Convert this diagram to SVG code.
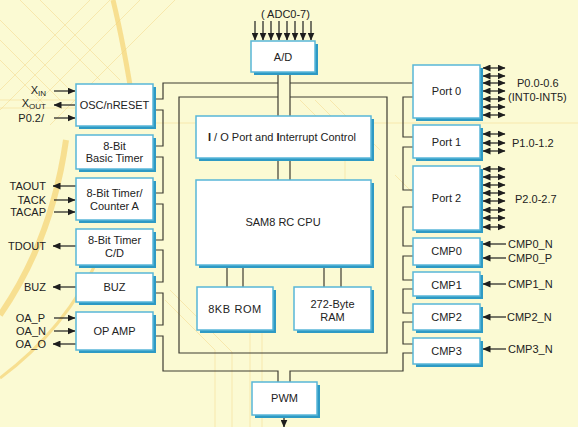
<svg xmlns="http://www.w3.org/2000/svg" width="578" height="427" viewBox="0 0 578 427">
<defs>
<style>
.bg{fill:#FBFAD3}
.deco{fill:none;stroke:#F2D37E;stroke-width:1;opacity:0.45}
.decot{fill:none;stroke:#F5D57A;opacity:0.75}
.sh{fill:#2E9AC4}
.bx{fill:#fff;stroke:#58B6D8;stroke-width:1.5}
text{font-family:"Liberation Sans",Arial,sans-serif;font-size:11px;fill:#222}
.c{text-anchor:middle}
.e{text-anchor:end}
.w{fill:none;stroke:#3E3D33;stroke-width:1.2}
.a{fill:none;stroke:#1E1E1E;stroke-width:1.2;marker-end:url(#ah)}
.b{fill:none;stroke:#1E1E1E;stroke-width:1.2;marker-start:url(#ah);marker-end:url(#ah)}
</style>
<marker id="ah" viewBox="0 0 8 8" refX="7.5" refY="4" markerWidth="8" markerHeight="7" markerUnits="userSpaceOnUse" orient="auto-start-reverse" preserveAspectRatio="none">
<path d="M0,0 L8,4 L0,8 z" fill="#1E1E1E"/>
</marker>
</defs>
<rect class="bg" x="0" y="0" width="578" height="427"/>
<g id="decoration">
<path class="decot" d="M113,0 Q124,45 134,110" stroke-width="5"/>
<path class="decot" d="M66,140 Q52,240 0,315" stroke-width="6"/>
<path class="decot" d="M100,255 Q65,330 0,378" stroke-width="3" opacity="0.45"/>
<path class="deco" d="M0,20 L70,90 M0,40 L60,100 M0,60 L45,105 M20,0 L100,80 M40,0 L120,80 M0,90 L90,0 M0,110 L110,0 M20,120 L140,0 M50,125 L175,0"/>
<path class="deco" d="M0,100 H75 M0,108 H75 M140,123 H578"/>
<path class="deco" d="M165,300 L215,350 V427 M170,290 L232,352 V427 M250,330 V427 M262,330 V427"/>
<path class="deco" d="M300,100 L345,145 V190 M315,100 L360,145 M330,100 L380,150 M395,175 L420,200"/>
</g>
<g id="connectors">
<path class="w" d="M278,75 V116 M290,75 V116 M278,160 V180 M290,160 V180"/>
<path class="w" d="M155,99 H163 V83 H278 M290,83 H413"/>
<path class="w" d="M278,97 H179 V353 H387 V97 H290"/>
<path class="w" d="M155,110 H163 V146 H155 M155,157 H163 V193 H155 M155,204 H163 V240 H155 M155,250 H163 V282 H155 M155,293 H163 V325 H155"/>
<path class="w" d="M155,336 H163 V371 H278 V382 M290,382 V371 H403 V353 H413"/>
<path class="w" d="M413,97 H403 V137 H413 M413,147 H403 V190 H413 M413,207 H403 V246 H413 M413,256 H403 V280 H413 M413,289 H403 V313 H413 M413,322 H403 V344 H413"/>
<path class="w" d="M227,267 V287 M243,267 V287 M324,267 V287 M341,267 V287"/>
<g id="adc-arrows">
<path class="a" d="M255,21 V40"/><path class="a" d="M263,21 V40"/><path class="a" d="M271,21 V40"/><path class="a" d="M279,21 V40"/>
<path class="a" d="M287,21 V40"/><path class="a" d="M295,21 V40"/><path class="a" d="M303,21 V40"/><path class="a" d="M311,21 V40"/>
</g>
<path class="a" d="M284,418 V427"/>
<g id="left-arrows">
<path class="a" d="M54,91 H75"/><path class="a" d="M54,118 H75"/><path class="a" d="M54,200 H75"/><path class="a" d="M54,212 H75"/><path class="a" d="M54,318 H75"/><path class="a" d="M54,331 H75"/>
<path class="a" d="M75,105 H54"/><path class="a" d="M76,186 H53"/><path class="a" d="M76,246 H53"/><path class="a" d="M76,287 H53"/><path class="a" d="M76,344 H53"/>
</g>
<g id="right-arrows">
<path class="b" d="M483,68 H505"/><path class="b" d="M483,76 H505"/><path class="b" d="M483,83 H505"/><path class="b" d="M483,91 H505"/><path class="b" d="M483,99 H505"/><path class="b" d="M483,107 H505"/><path class="b" d="M483,115 H505"/>
<path class="b" d="M483,134 H505"/><path class="b" d="M483,143 H505"/><path class="b" d="M483,151 H505"/>
<path class="b" d="M483,169 H505"/><path class="b" d="M483,177 H505"/><path class="b" d="M483,185 H505"/><path class="b" d="M483,193 H505"/><path class="b" d="M483,201 H505"/><path class="b" d="M483,210 H505"/><path class="b" d="M483,218 H505"/><path class="b" d="M483,227 H505"/>
<path class="a" d="M506,244 H483"/><path class="a" d="M506,258 H483"/><path class="a" d="M506,284 H483"/><path class="a" d="M506,317 H483"/><path class="a" d="M506,349 H483"/>
</g>
</g>
<g id="ad"><rect class="sh" x="254" y="44" width="64" height="31"/><rect class="bx" x="251" y="41" width="64" height="31"/><text class="c" x="283" y="61">A/D</text></g>
<g id="osc"><rect class="sh" x="79" y="87" width="77" height="42"/><rect class="bx" x="76" y="84" width="77" height="42"/><text class="c" x="114.5" y="109">OSC/nRESET</text></g>
<g id="basic-timer"><rect class="sh" x="79" y="138" width="77" height="34"/><rect class="bx" x="76" y="135" width="77" height="34"/><text class="c" x="114.5" y="150">8-Bit</text><text class="c" x="114.5" y="162">Basic Timer</text></g>
<g id="timer-a"><rect class="sh" x="79" y="181" width="77" height="42"/><rect class="bx" x="76" y="178" width="77" height="42"/><text class="c" x="114.5" y="197">8-Bit Timer/</text><text class="c" x="114.5" y="210">Counter A</text></g>
<g id="timer-cd"><rect class="sh" x="79" y="232" width="77" height="36"/><rect class="bx" x="76" y="229" width="77" height="36"/><text class="c" x="114.5" y="244">8-Bit Timer</text><text class="c" x="114.5" y="257">C/D</text></g>
<g id="buz"><rect class="sh" x="79" y="276" width="77" height="29"/><rect class="bx" x="76" y="273" width="77" height="29"/><text class="c" x="114.5" y="291">BUZ</text></g>
<g id="opamp"><rect class="sh" x="79" y="315" width="77" height="38"/><rect class="bx" x="76" y="312" width="77" height="38"/><text class="c" x="114.5" y="335">OP AMP</text></g>
<g id="io"><rect class="sh" x="199" y="119" width="175" height="42"/><rect class="bx" x="196" y="116" width="175" height="42"/><text class="c" x="282" y="141"><tspan font-weight="bold">I</tspan> / O Port and <tspan font-weight="bold">I</tspan>nterrupt Control</text></g>
<g id="cpu"><rect class="sh" x="199" y="183" width="175" height="85"/><rect class="bx" x="196" y="180" width="175" height="85"/><text class="c" x="283" y="226">SAM8 RC CPU</text></g>
<g id="rom"><rect class="sh" x="200" y="290" width="76" height="43"/><rect class="bx" x="197" y="287" width="76" height="43"/><text class="c" x="235" y="313" letter-spacing="0.6">8KB ROM</text></g>
<g id="ram"><rect class="sh" x="297" y="290" width="77" height="43"/><rect class="bx" x="294" y="287" width="77" height="43"/><text class="c" x="332.5" y="308">272-Byte</text><text class="c" x="332.5" y="321">RAM</text></g>
<g id="pwm"><rect class="sh" x="255" y="385" width="65" height="33"/><rect class="bx" x="252" y="382" width="65" height="33"/><text class="c" x="284.5" y="402">PWM</text></g>
<g id="port0"><rect class="sh" x="416" y="68" width="67" height="53"/><rect class="bx" x="413" y="65" width="67" height="53"/><text class="c" x="446.5" y="95">Port 0</text></g>
<g id="port1"><rect class="sh" x="416" y="128" width="67" height="33"/><rect class="bx" x="413" y="125" width="67" height="33"/><text class="c" x="446.5" y="146">Port 1</text></g>
<g id="port2"><rect class="sh" x="416" y="169" width="67" height="64"/><rect class="bx" x="413" y="166" width="67" height="64"/><text class="c" x="446.5" y="202">Port 2</text></g>
<g id="cmp0"><rect class="sh" x="416" y="241" width="67" height="27"/><rect class="bx" x="413" y="238" width="67" height="27"/><text class="c" x="446.5" y="255">CMP0</text></g>
<g id="cmp1"><rect class="sh" x="416" y="275" width="67" height="24"/><rect class="bx" x="413" y="272" width="67" height="24"/><text class="c" x="446.5" y="289">CMP1</text></g>
<g id="cmp2"><rect class="sh" x="416" y="307" width="67" height="26"/><rect class="bx" x="413" y="304" width="67" height="26"/><text class="c" x="446.5" y="321">CMP2</text></g>
<g id="cmp3"><rect class="sh" x="416" y="341" width="67" height="26"/><rect class="bx" x="413" y="338" width="67" height="26"/><text class="c" x="446.5" y="355">CMP3</text></g>
<g id="labels">
<text x="261" y="18">( ADC0-7)</text>
<text class="e" x="46" y="94">X<tspan font-size="8" dy="2">IN</tspan></text>
<text class="e" x="46" y="107">X<tspan font-size="8" dy="2">OUT</tspan></text>
<text class="e" x="44" y="122">P0.2/</text>
<text class="e" x="46" y="190">TAOUT</text>
<text class="e" x="46" y="204">TACK</text>
<text class="e" x="46" y="216">TACAP</text>
<text class="e" x="46" y="250">TDOUT</text>
<text class="e" x="46" y="291">BUZ</text>
<text class="e" x="45" y="322">OA_P</text>
<text class="e" x="46" y="335">OA_N</text>
<text class="e" x="46" y="348">OA_O</text>
<text x="517" y="87">P0.0-0.6</text>
<text x="508" y="101">(INT0-INT5)</text>
<text x="512" y="147">P1.0-1.2</text>
<text x="515" y="203">P2.0-2.7</text>
<text x="508" y="248">CMP0_N</text>
<text x="508" y="262">CMP0_P</text>
<text x="508" y="288">CMP1_N</text>
<text x="507" y="321">CMP2_N</text>
<text x="508" y="353">CMP3_N</text>
</g>
</svg>
